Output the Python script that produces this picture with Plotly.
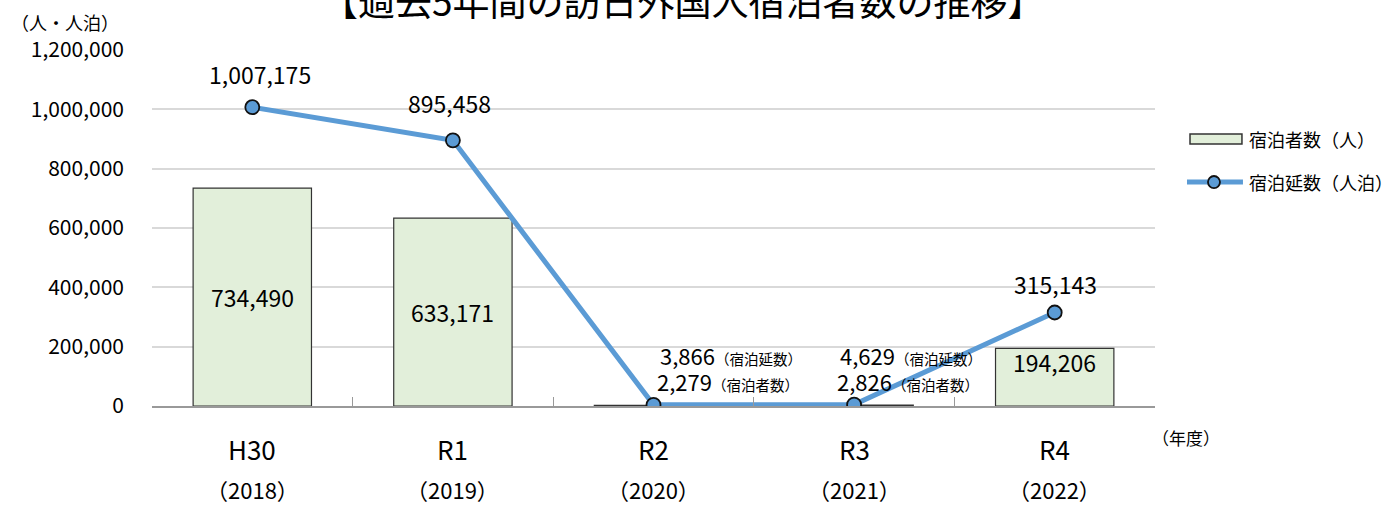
import plotly.graph_objects as go

# データ
categories = ["H30", "R1", "R2", "R3", "R4"]
years = ["（2018）", "（2019）", "（2020）", "（2021）", "（2022）"]
guests = [734490, 633171, 2279, 2826, 194206]          # 宿泊者数（人）
nights = [1007175, 895458, 3866, 4629, 315143]         # 宿泊延数（人泊）
legend_names = ["宿泊者数（人）", "宿泊延数（人泊）"]

FONT = "Noto Sans CJK JP"
BLUE = "#5B9BD5"
GREEN = "#E2EFDA"

fig = go.Figure()

fig.add_trace(go.Bar(
    x=categories, y=guests,
    name=legend_names[0],
    marker=dict(color=GREEN, line=dict(color="#333333", width=1.2)),
))

fig.add_trace(go.Scatter(
    x=categories, y=nights,
    name=legend_names[1],
    mode="lines+markers",
    line=dict(color=BLUE, width=5),
    marker=dict(size=14, color=BLUE, line=dict(color="#111111", width=1.8)),
))

# 棒のラベル
for i, ys in [(0, 0), (1, 0), (4, 15)]:
    fig.add_annotation(x=categories[i], y=guests[i] / 2, text=f"{guests[i]:,}",
                       showarrow=False, yshift=ys, font=dict(size=23, color="black"))

# 折れ線のラベル
for i, xs, ys in [(0, 8, 33), (1, -3, 37), (4, 1, 29)]:
    fig.add_annotation(x=categories[i], y=nights[i], text=f"{nights[i]:,}",
                       showarrow=False, xshift=xs, yshift=ys,
                       font=dict(size=23, color="black"))

# R2・R3 の小さい値
for i, xs in [(2, 4), (3, -16)]:
    fig.add_annotation(x=categories[i], y=0, xanchor="left", yanchor="middle",
                       text=f"{nights[i]:,}<span style='font-size:14.5px'>（宿泊延数）</span>",
                       showarrow=False, xshift=xs, yshift=51,
                       font=dict(size=22, color="black"))
    fig.add_annotation(x=categories[i], y=0, xanchor="left", yanchor="middle",
                       text=f"{guests[i]:,}<span style='font-size:14.5px'>（宿泊者数）</span>",
                       showarrow=False, xshift=xs - 3, yshift=25,
                       font=dict(size=22, color="black"))

# x軸ラベル（2段）
for c, yr in zip(categories, years):
    fig.add_annotation(x=c, y=0, yref="y", text=c, showarrow=False,
                       yshift=-42, font=dict(size=26, color="black"))
    fig.add_annotation(x=c, y=0, yref="y", text=yr, showarrow=False,
                       yshift=-83, font=dict(size=22, color="black"))

fig.add_annotation(x=1.031, xref="paper", y=0, yref="y", text="（年度）", showarrow=False,
                   xanchor="center", yanchor="middle",
                   yshift=-31, font=dict(size=17, color="black"))
fig.add_annotation(x=-0.087, xref="paper", y=1.079, yref="paper", text="（人・人泊）",
                   xanchor="center", yanchor="middle",
                   showarrow=False, font=dict(size=18, color="black"))

fig.add_annotation(text="【過去5年間の訪日外国人宿泊者数の推移】",
                   xref="paper", yref="paper", x=0.529, y=1.14,
                   xanchor="center", yanchor="middle",
                   showarrow=False, font=dict(size=37, color="black"))

# 凡例（手描き）
fig.add_shape(type="rect", xref="paper", yref="paper", x0=1.0349, x1=1.0867, y0=0.736, y1=0.764,
              fillcolor=GREEN, line=dict(color="#333333", width=1.5))
fig.add_shape(type="line", xref="paper", yref="paper", x0=1.0319, x1=1.0877, y0=0.629, y1=0.629,
              line=dict(color=BLUE, width=5))
fig.add_shape(type="circle", xref="paper", yref="paper", x0=1.0528, x1=1.0648, y0=0.612, y1=0.646,
              fillcolor=BLUE, line=dict(color="#111111", width=1.8))
for name, yy in zip(legend_names, [0.750, 0.629]):
    fig.add_annotation(text=name, xref="paper", yref="paper", x=1.0917, y=yy,
                       xanchor="left", yanchor="middle", showarrow=False,
                       font=dict(size=18, color="black"))

fig.update_layout(
    width=1397, height=507,
    margin=dict(l=152, r=242, t=50, b=101),
    plot_bgcolor="white", paper_bgcolor="white",
    font=dict(family=FONT, color="black"),
    bargap=0.41,
    showlegend=False,
    xaxis=dict(showticklabels=False, tickson="boundaries", ticks="inside",
               ticklen=9, tickcolor="#999999", showline=True, linecolor="#999999",
               linewidth=2, showgrid=False),
    yaxis=dict(range=[0, 1200000], dtick=200000, tickformat=",", showgrid=True,
               gridcolor="#D9D9D9", gridwidth=1.5, zeroline=False,
               tickfont=dict(size=21), ticks="", ticklabelstandoff=27),
)

fig.write_html("out.html", config={"displayModeBar": False},
               post_script="document.body.style.margin='0';")
